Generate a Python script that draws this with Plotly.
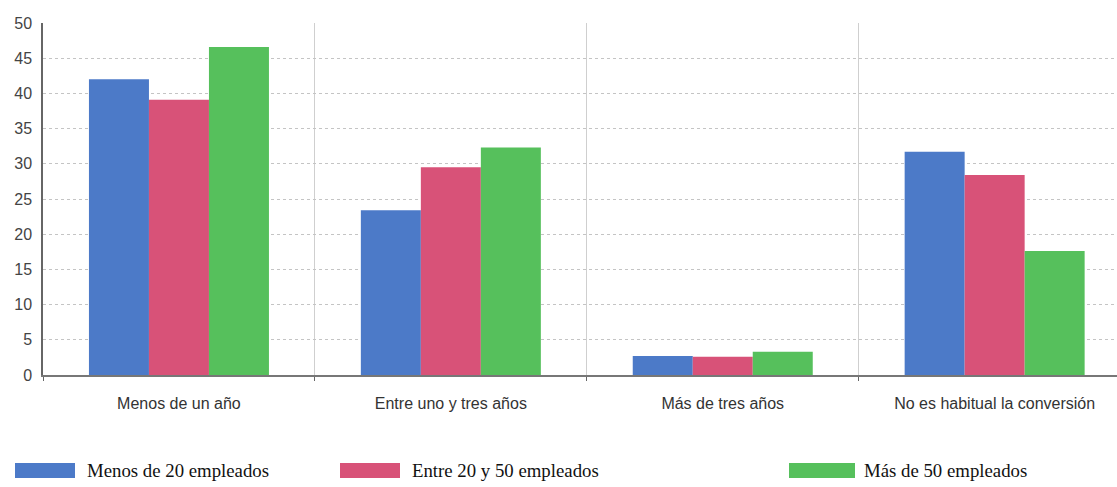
import plotly.graph_objects as go

categories = ["Menos de un año", "Entre uno y tres años", "Más de tres años", "No es habitual la conversión"]
series_names = ["Menos de 20 empleados", "Entre 20 y 50 empleados", "Más de 50 empleados"]
menos_20 = [42.0, 23.4, 2.7, 31.7]
entre_20_50 = [39.1, 29.5, 2.6, 28.4]
mas_50 = [46.6, 32.3, 3.3, 17.6]
y_ticks = [0, 5, 10, 15, 20, 25, 30, 35, 40, 45, 50]

colors = ["#4c7ac8", "#d85278", "#56c05c"]
values = [menos_20, entre_20_50, mas_50]

W, H = 1117, 487
ML, MR, MT, MB = 43, 0, 23, 112
pw = W - ML - MR
ph = H - MT - MB

fig = go.Figure()
for name, vals, c in zip(series_names, values, colors):
    fig.add_trace(go.Bar(x=categories, y=vals, name=name, marker=dict(color=c, line=dict(width=0)),
                         showlegend=False))

def px_x(p):
    return (p - ML) / pw

def px_y(p):
    return (H - MB - p) / ph

shapes = []
annotations = []
legend_items = [(15, 75, 85), (340, 400, 410), (789, 855, 862)]
for (x0, x1, tx), name, c in zip(legend_items, series_names, colors):
    shapes.append(dict(type="rect", xref="paper", yref="paper",
                       x0=px_x(x0), x1=px_x(x1), y0=px_y(478), y1=px_y(463),
                       fillcolor=c, line=dict(width=0)))
    annotations.append(dict(text=name, xref="paper", yref="paper", x=px_x(tx), y=px_y(470),
                            xanchor="left", yanchor="middle", showarrow=False,
                            font=dict(family="Liberation Serif, Times New Roman, serif", size=18.8, color="#111")))

fig.update_layout(
    width=W, height=H,
    margin=dict(l=ML, r=MR, t=MT, b=MB, pad=0),
    barmode="group", bargap=0.338, bargroupgap=0,
    plot_bgcolor="white", paper_bgcolor="white",
    shapes=shapes, annotations=annotations,
    xaxis=dict(type="category", range=[-0.5, 3.45], tickson="boundaries",
               showgrid=True, gridcolor="#cfcfcf", gridwidth=1,
               ticks="outside", ticklen=4, tickcolor="#666",
               showline=True, linecolor="#777", linewidth=2,
               ticklabelstandoff=13,
               tickfont=dict(family="Liberation Sans, Arial, sans-serif", size=16, color="#333")),
    yaxis=dict(range=[0, 50], tickvals=y_ticks, showgrid=True, gridcolor="#c4c4c4", griddash="dot", gridwidth=1,
               showline=True, linecolor="#666", linewidth=1.5, ticks="", zeroline=False,
               ticklabelstandoff=6,
               tickfont=dict(family="Liberation Sans, Arial, sans-serif", size=16, color="#444")),
)

fig.write_html("out.html")
